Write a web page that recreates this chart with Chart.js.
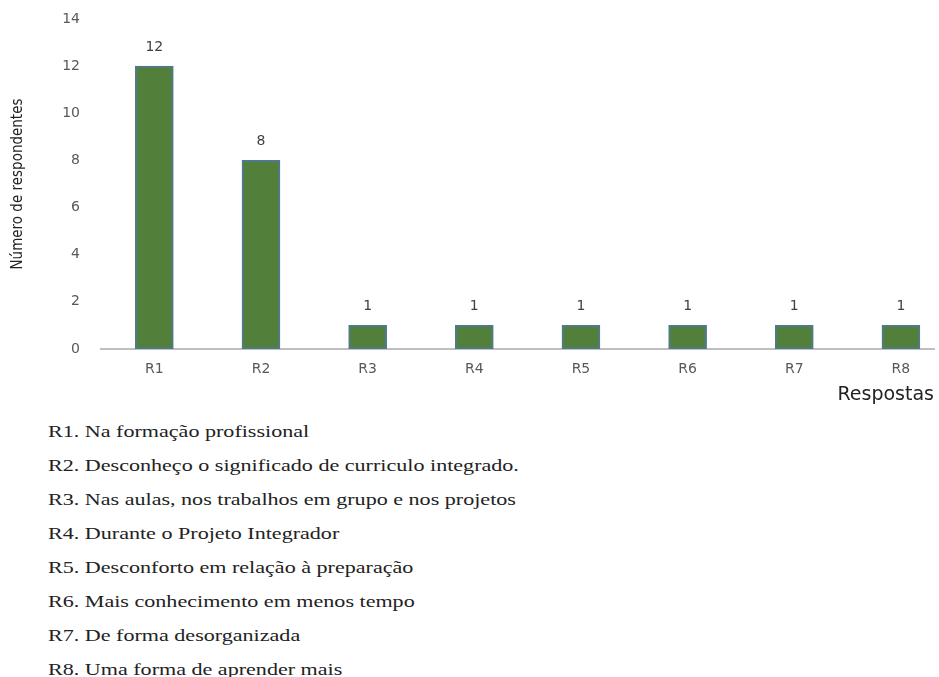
<!DOCTYPE html>
<html>
<head>
<meta charset="utf-8">
<script src="https://cdn.jsdelivr.net/npm/chart.js@4"></script>
<style>
    html, body { margin: 0; padding: 0; background: #fff; overflow: hidden; }
    #wrap { position: absolute; left: 0; top: 0; width: 939px; height: 410px; }
    #notes { position: absolute; left: 48px; top: 0; }
    #notes div {
        position: absolute;
        left: 0;
        white-space: nowrap;
        font-family: "Liberation Serif", "Times New Roman", serif;
        font-size: 16px;
        color: #222;
        transform: scaleX(1.38);
        transform-origin: left center;
        line-height: 18px;
    }
</style>
</head>
<body>
<div id="wrap"><canvas id="chart" width="939" height="410"></canvas></div>
<div id="notes"></div>
<script>
(function () {
    "use strict";

    const categories = ["R1", "R2", "R3", "R4", "R5", "R6", "R7", "R8"];
    const respondents = [12, 8, 1, 1, 1, 1, 1, 1];
    const yTicks = [0, 2, 4, 6, 8, 10, 12, 14];
    const notes = [
        "R1. Na formação profissional",
        "R2. Desconheço o significado de curriculo integrado.",
        "R3. Nas aulas, nos trabalhos em grupo e nos projetos",
        "R4. Durante o Projeto Integrador",
        "R5. Desconforto em relação à preparação",
        "R6. Mais conhecimento em menos tempo",
        "R7. De forma desorganizada",
        "R8. Uma forma de aprender mais",
    ];

    // legend text under the chart
    const notesEl = document.getElementById("notes");
    notes.forEach(function (txt, i) {
        const d = document.createElement("div");
        d.textContent = txt;
        d.style.top = (432 + i * 34 - 9) + "px";
        notesEl.appendChild(d);
    });

    // value labels above bars
    const valueLabels = {
        id: "valueLabels",
        afterDatasetsDraw(chart) {
            const ctx = chart.ctx;
            const meta = chart.getDatasetMeta(0);
            ctx.save();
            ctx.font = "14px 'DejaVu Sans'";
            ctx.fillStyle = "#404040";
            ctx.textAlign = "center";
            ctx.textBaseline = "middle";
            meta.data.forEach(function (bar, i) {
                ctx.fillText(String(respondents[i]), bar.x, bar.y - 19);
            });
            ctx.restore();
        },
    };

    const ctx = document.getElementById("chart").getContext("2d");

    new Chart(ctx, {
        type: "bar",
        data: {
            datasets: [
                {
                    data: respondents.map(function (v, i) {
                        return { x: i, y: v };
                    }),
                    backgroundColor: "#52803a",
                    borderColor: "#4f7a8c",
                    borderWidth: 2,
                    borderSkipped: false,
                    barThickness: 38,
                },
            ],
        },
        options: {
            responsive: false,
            animation: false,
            layout: {
                padding: { top: 19, right: 5, bottom: 0, left: 0 },
            },
            plugins: {
                legend: { display: false },
                tooltip: { enabled: false },
            },
            scales: {
                x: {
                    type: "linear",
                    offset: false,
                    min: -0.5,
                    max: 7.31,
                    grid: { display: false, drawTicks: false, offset: false },
                    border: { display: true, color: "#bfbfbf", width: 2 },
                    afterBuildTicks(scale) {
                        scale.ticks = categories.map(function (c, i) {
                            return { value: i };
                        });
                    },
                    ticks: {
                        autoSkip: false,
                        maxRotation: 0,
                        padding: 12,
                        color: "#595959",
                        font: { family: "DejaVu Sans", size: 14 },
                        callback: function (v) {
                            return categories[v] || "";
                        },
                    },
                    title: {
                        display: true,
                        text: "Respostas",
                        align: "end",
                        color: "#222",
                        font: { family: "DejaVu Sans", size: 19 },
                        padding: { top: 0, bottom: 4 },
                    },
                    afterFit(scale) {
                        scale.height = 61;
                    },
                },
                y: {
                    min: 0,
                    max: 14,
                    grid: { display: false, drawTicks: false },
                    border: { display: false },
                    afterBuildTicks(scale) {
                        scale.ticks = yTicks.map(function (v) {
                            return { value: v };
                        });
                    },
                    ticks: {
                        padding: 21,
                        color: "#595959",
                        font: { family: "DejaVu Sans", size: 14 },
                    },
                    title: {
                        display: true,
                        text: "Número de respondentes",
                        color: "#222",
                        font: { family: "DejaVu Sans Condensed", size: 15 },
                        padding: { top: 9, bottom: 0 },
                    },
                    afterFit(scale) {
                        scale.width = 101;
                        scale.paddingTop = 0;
                        scale.paddingBottom = 0;
                    },
                },
            },
        },
        plugins: [valueLabels],
    });
})();
</script>
</body>
</html>
